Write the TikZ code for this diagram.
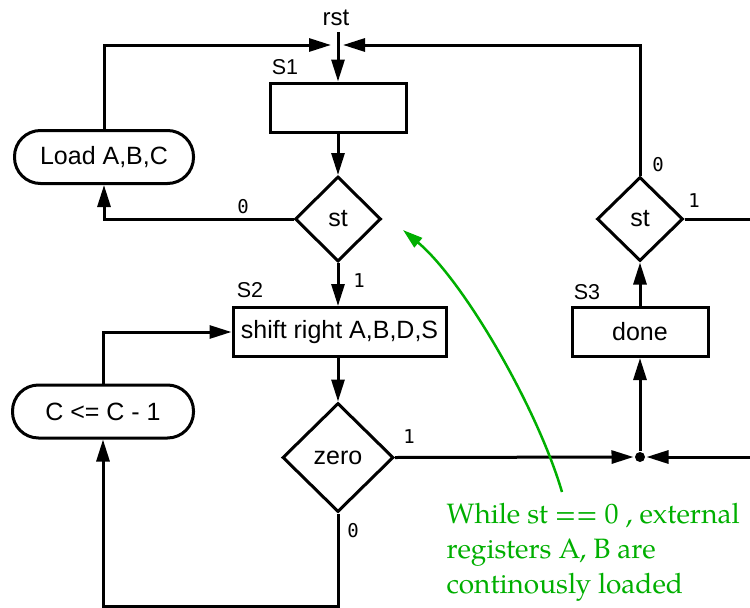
\documentclass[tikz,border=0pt]{standalone}
\usepackage{fontspec}
\setmainfont{Liberation Sans}
\newfontfamily\digitfont{DejaVu Sans Mono}
\newfontfamily\notefont{TeX Gyre Pagella}
\usetikzlibrary{arrows.meta,shapes.geometric}
\definecolor{notegreen}{RGB}{0,175,0}
\begin{document}
\begin{tikzpicture}[x=1pt,y=-1pt,
  line width=3pt,
  arr/.style={-{Triangle[length=22pt,width=13pt]}},
  statebox/.style={draw,rectangle,inner sep=0pt,minimum height=49pt,font=\fontsize{25}{30}\selectfont},
  pill/.style={draw,rectangle,rounded corners=26pt,inner sep=0pt,minimum height=53pt,font=\fontsize{25}{30}\selectfont},
  decision/.style={draw,diamond,aspect=1,inner sep=0pt,font=\fontsize{25}{30}\selectfont},
  slabel/.style={font=\fontsize{21.5}{25}\selectfont,inner sep=0pt},
  blabel/.style={font=\digitfont\fontsize{19}{22}\selectfont,inner sep=0pt},
  note/.style={font=\notefont\fontsize{28}{35}\selectfont,text=notegreen,inner sep=0pt,anchor=base west}
]
\useasboundingbox (0,0) rectangle (750,608);

% nodes
\node[font=\fontsize{24}{28}\selectfont,inner sep=0pt,minimum height=27pt] (rst) at (336,18) {rst};
\node[statebox,minimum width=136pt] (s1) at (338,107.5) {};
\node[slabel] (s1l) at (285,67) {S1};
\node[decision,minimum width=86pt,minimum height=85pt] (st) at (338,219) {st};
\node[pill,minimum width=179pt] (load) at (104,157) {Load A,B,C};
\node[statebox,minimum width=213pt] (s2) at (339.5,332) {shift right A,B,D,S};
\node[slabel] (s2l) at (250,290) {S2};
\node[pill,minimum width=181pt] (cdec) at (103,411.5) {C <= C - 1};
\node[decision,minimum width=111pt,minimum height=109pt] (zero) at (338,457.5) {zero};
\node[circle,fill,inner sep=0pt,minimum size=10pt] (dot) at (640,457) {};
\node[statebox,minimum width=136pt] (done) at (640,332) {done};
\node[slabel] (s3l) at (587,292) {S3};
\node[decision,minimum width=86pt,minimum height=84pt] (st2) at (640,219) {st};

% branch labels
\node[blabel] (l0a) at (243,207) {0};
\node[blabel] (l1a) at (359,281) {1};
\node[blabel] (l1b) at (409,437) {1};
\node[blabel] (l0b) at (353,531) {0};
\node[blabel] (l0c) at (658,165) {0};
\node[blabel] (l1c) at (694,201) {1};

% coordinates
\coordinate (jl) at (331,45);
\coordinate (jr) at (343,45);
\coordinate (bot) at (338,606);
\coordinate (redge1) at (750,457);
\coordinate (redge2) at (750,219);

% connectors
\draw[arr] (338,32) -- (s1.north);
\draw[arr] (load.north) |- (jl);
\draw[arr] (st2.north) |- (jr);
\draw[arr] (s1.south) -- (st.north);
\draw[arr] (st.west) -| (load.south);
\draw[arr] (st.south) -- (st.south |- s2.north);
\draw[arr] (cdec.north) |- (s2.west);
\draw[arr] (zero.north |- s2.south) -- (zero.north);
\draw[arr] (zero.south) -- (bot) -| (cdec.south);
\draw[arr] (zero.east) -- (dot.west);
\draw[arr] (redge1) -- (dot.east);
\draw[arr] (dot.north) -- (done.south);
\draw[arr] (done.north) -- (st2.south);
\draw (st2.east) -- (redge2);

% note
\node[note] (note1) at (445,523) {While st == 0 , external};
\node[note] (note2) at (445,558) {registers A, B are};
\node[note] (note3) at (445,593) {continously loaded};
\coordinate (notestart) at (562,492);
\coordinate (notetip) at (403,230);
\draw[notegreen,line width=2.5pt,-{Triangle[length=20pt,width=12pt]}] (notestart) .. controls (537,407) and (463,280) .. (notetip);
\end{tikzpicture}
\end{document}
